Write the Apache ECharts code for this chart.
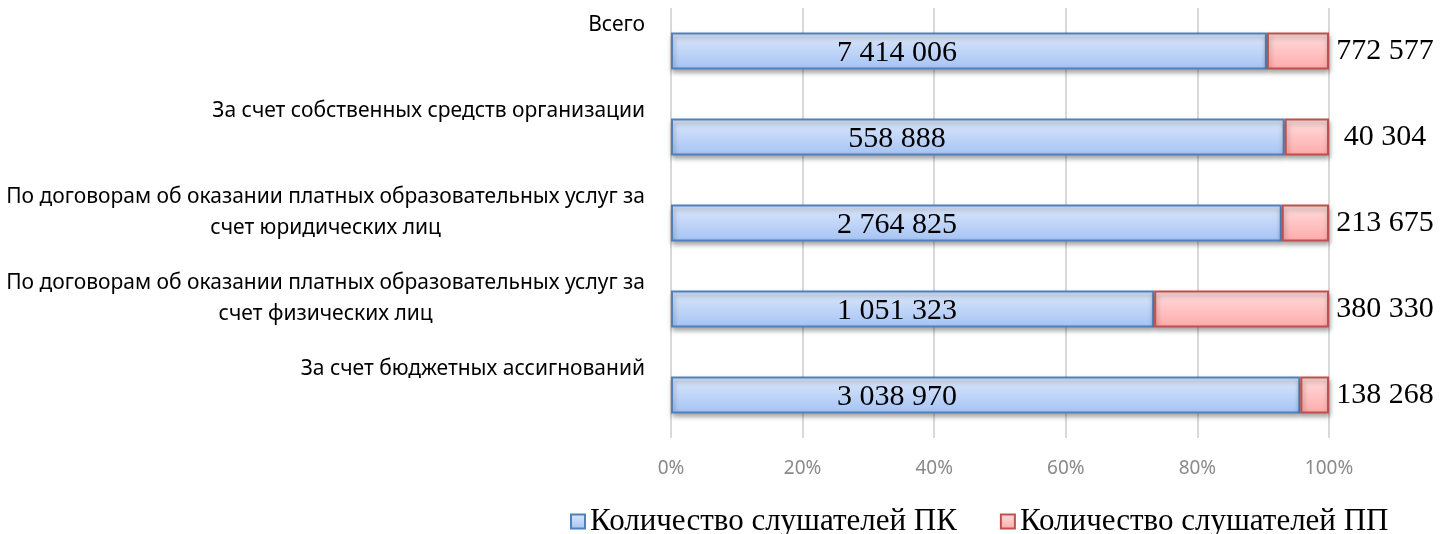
<!DOCTYPE html>
<html>
<head>
<meta charset="utf-8">
<script src="https://cdn.jsdelivr.net/npm/echarts@6/dist/echarts.min.js"></script>
<style>
  html, body { margin: 0; padding: 0; background: #fff; }
  #container { width: 1443px; height: 534px; }
</style>
</head>
<body>
<div id="container"></div>
<script>
// категории сверху вниз
var categories = [
    'Всего',
    'За счет собственных средств организации',
    'По договорам об оказании платных образовательных услуг за счет юридических лиц',
    'По договорам об оказании платных образовательных услуг за счет физических лиц',
    'За счет бюджетных ассигнований'
];
var seriesNames = ['Количество слушателей ПК', 'Количество слушателей ПП'];
var pkValues = [7414006, 558888, 2764825, 1051323, 3038970];
var ppValues = [772577, 40304, 213675, 380330, 138268];
var xTicks = [0, 20, 40, 60, 80, 100];

// доли для 100% накопления
function share(arr, i) {
    return arr[i] / (pkValues[i] + ppValues[i]) * 100;
}
var pkShare = pkValues.map(function (v, i) { return share(pkValues, i); });
var ppShare = ppValues.map(function (v, i) { return share(ppValues, i); });

function fmt(v) {
    return String(v).replace(/\B(?=(\d{3})+(?!\d))/g, ' ');
}

// перенос длинных подписей
function wrap(text, max) {
    var words = text.split(' ');
    var lines = [];
    var cur = '';
    words.forEach(function (w) {
        if (cur && (cur + ' ' + w).length > max) {
            lines.push(cur);
            cur = w;
        } else {
            cur = cur ? cur + ' ' + w : w;
        }
    });
    if (cur) lines.push(cur);
    return lines;
}

var dom = document.getElementById('container');
var myChart = echarts.init(dom);

var option = {
    animation: false,
    grid: {
        left: 671,
        right: 114,
        top: 8,
        bottom: 96,
        containLabel: false
    },
    legend: {
        left: 570,
        top: 506,
        padding: 0,
        icon: 'rect',
        itemWidth: 14,
        itemHeight: 14,
        itemGap: 43,
        textStyle: {
            fontFamily: 'Liberation Serif',
            fontSize: 31,
            color: '#000'
        },
        data: seriesNames
    },
    xAxis: {
        type: 'value',
        min: xTicks[0],
        max: xTicks[xTicks.length - 1],
        interval: 20,
        axisLine: { show: false },
        axisTick: { show: false },
        splitLine: {
            show: true,
            lineStyle: { color: '#d9d9d9', width: 2 }
        },
        axisLabel: {
            margin: 21,
            formatter: '{value}%',
            color: '#8a8a8a',
            fontFamily: 'Noto Sans',
            fontSize: 19
        }
    },
    yAxis: {
        type: 'category',
        inverse: true,
        data: categories,
        axisLine: { show: false },
        axisTick: { show: false },
        axisLabel: {
            margin: 26,
            align: 'right',
            verticalAlign: 'middle',
            padding: [0, 0, 20, 0],
            formatter: function (val) {
                var lines = wrap(val, 58);
                if (lines.length === 1) lines.push(' ');
                return lines.map(function (l) { return '{c|' + l + '}'; }).join('\n');
            },
            rich: {
                c: {
                    align: 'center',
                    lineHeight: 31,
                    fontFamily: 'Noto Sans',
                    fontSize: 21,
                    color: '#000'
                }
            }
        }
    },
    series: [
        {
            name: seriesNames[0],
            type: 'bar',
            stack: 'total',
            barWidth: 37,
            data: pkShare,
            itemStyle: {
                color: new echarts.graphic.LinearGradient(0, 0, 0, 1, [
                    { offset: 0, color: '#dde8fb' },
                    { offset: 1, color: '#a5c3f4' }
                ]),
                borderColor: '#4f81bd',
                borderWidth: 2,
                shadowColor: 'rgba(0,0,0,0.35)',
                shadowBlur: 5,
                shadowOffsetX: 1,
                shadowOffsetY: 3
            },
            label: {
                show: true,
                position: [226, '55%'],
                align: 'center',
                verticalAlign: 'middle',
                fontFamily: 'Liberation Serif',
                fontSize: 30,
                color: '#000',
                formatter: function (p) { return fmt(pkValues[p.dataIndex]); }
            }
        },
        {
            name: seriesNames[1],
            type: 'bar',
            stack: 'total',
            barWidth: 37,
            data: ppShare,
            itemStyle: {
                color: new echarts.graphic.LinearGradient(0, 0, 0, 1, [
                    { offset: 0, color: '#ffdede' },
                    { offset: 1, color: '#ffaaaa' }
                ]),
                borderColor: '#c0504d',
                borderWidth: 2,
                shadowColor: 'rgba(0,0,0,0.35)',
                shadowBlur: 5,
                shadowOffsetX: 1,
                shadowOffsetY: 3
            },
            label: {
                show: true,
                position: 'right',
                distance: 56,
                align: 'center',
                verticalAlign: 'middle',
                fontFamily: 'Liberation Serif',
                fontSize: 30,
                color: '#000',
                formatter: function (p) { return fmt(ppValues[p.dataIndex]); }
            }
        }
    ]
};

myChart.setOption(option, true);
</script>
</body>
</html>
